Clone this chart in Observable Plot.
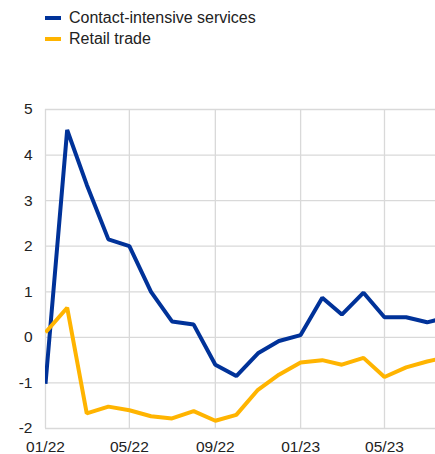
<!DOCTYPE html>
<html>
<head>
<meta charset="utf-8">
<script src="https://cdn.jsdelivr.net/npm/d3@7"></script>
<script src="https://cdn.jsdelivr.net/npm/@observablehq/plot@0.6"></script>
<style>
  html, body { margin: 0; padding: 0; background: #fff; }
  body { width: 435px; height: 454px; overflow: hidden; font-family: "Liberation Sans", Arial, sans-serif; }
  #legend { height: 60px; position: relative; }
  .item { position: absolute; left: 45px; height: 22px; display: flex; align-items: center; font-size: 16px; color: #222; }
  .sw { width: 16px; height: 4px; margin-right: 8px; }
</style>
</head>
<body>
<div id="legend"></div>
<div id="chart"></div>
<script>
const months = ["2022-01","2022-02","2022-03","2022-04","2022-05","2022-06","2022-07","2022-08","2022-09","2022-10","2022-11","2022-12","2023-01","2023-02","2023-03","2023-04","2023-05","2023-06","2023-07","2023-08"];
const contactIntensive = [-1.02, 4.55, 3.35, 2.15, 2.0, 1.0, 0.35, 0.28, -0.6, -0.85, -0.35, -0.08, 0.05, 0.87, 0.5, 0.98, 0.44, 0.44, 0.33, 0.45];
const retailTrade = [0.11, 0.65, -1.67, -1.52, -1.6, -1.73, -1.78, -1.62, -1.83, -1.7, -1.15, -0.82, -0.55, -0.5, -0.6, -0.45, -0.87, -0.66, -0.53, -0.42];
const seriesNames = ["Contact-intensive services", "Retail trade"];
const seriesColors = ["#003299", "#ffb400"];
const yTicks = [-2, -1, 0, 1, 2, 3, 4, 5];
const xTickMonths = ["2022-01","2022-05","2022-09","2023-01","2023-05"];
const xDomain = ["2022-01-01", "2023-07-13"];

const parse = d3.utcParse("%Y-%m");
const data = [];
months.forEach((m, i) => {
  data.push({date: parse(m), value: contactIntensive[i], series: seriesNames[0]});
  data.push({date: parse(m), value: retailTrade[i], series: seriesNames[1]});
});

const legend = document.getElementById("legend");
seriesNames.forEach((name, i) => {
  const it = document.createElement("div");
  it.className = "item";
  it.style.top = (7 + i * 21) + "px";
  it.innerHTML = `<span class="sw" style="background:${seriesColors[i]}"></span><span>${name}</span>`;
  legend.appendChild(it);
});

const xTicks = xTickMonths.map(parse);
const chart = Plot.plot({
  width: 435,
  height: 394,
  marginTop: 49,
  marginBottom: 26,
  marginLeft: 45,
  marginRight: 0,
  style: {fontFamily: "Liberation Sans, Arial, sans-serif", fontSize: "15.5px", color: "#222", background: "#fff", overflow: "visible"},
  x: {type: "utc", domain: xDomain.map(d => new Date(d)), label: null},
  y: {domain: [-2, 5], label: null},
  color: {domain: seriesNames, range: seriesColors},
  marks: [
    Plot.gridX(xTicks, {stroke: "#d9d9d9", strokeOpacity: 1, strokeWidth: 1.3}),
    Plot.gridY(yTicks, {stroke: "#d9d9d9", strokeOpacity: 1, strokeWidth: 1.3}),
    Plot.axisX({ticks: xTicks, tickFormat: d3.utcFormat("%m/%y"), tickSize: 0, tickPadding: 12, fontSize: 15.5}),
    Plot.axisY({ticks: yTicks, tickFormat: d => String(d), tickSize: 0, tickPadding: 13, fontSize: 15.5}),
    Plot.line(data, {x: "date", y: "value", z: "series", stroke: "series", strokeWidth: 4, strokeLinejoin: "miter", strokeLinecap: "butt", clip: true})
  ]
});
document.getElementById("chart").appendChild(chart);
</script>
</body>
</html>
